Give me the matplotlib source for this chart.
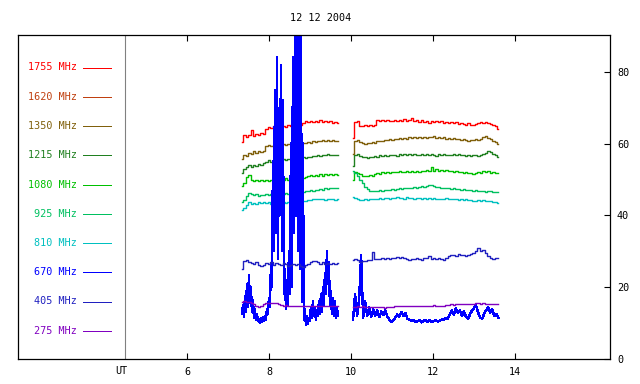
import numpy as np
import matplotlib
matplotlib.use("Agg")
import matplotlib.pyplot as plt
from matplotlib.lines import Line2D

TITLE = "12 12 2004"
FREQS = ["1755", "1620", "1350", "1215", "1080", "925", "810", "670", "405", "275"]
COLORS = ["#ff0000", "#c04010", "#80600c", "#208020", "#00c000",
          "#00c060", "#00c0c0", "#0000ff", "#2020c0", "#8000c0"]
X_TICKS = [6, 8, 10, 12, 14]
Y_TICKS = [0, 20, 40, 60, 80]
UT_POS = 4.49
SEG1 = (7.34, 9.68)
SEG2 = (10.05, 13.59)

# ---- segment 1 (7.34 - 9.68 UT) ----
S1755_A = [60.5, 62.5, 61.8, 62.3, 63.8, 62.0, 62.8, 62.4, 63.0, 62.6,
           64.2, 64.6, 64.3, 64.8, 64.5, 64.9, 64.6, 65.0, 64.7, 65.1,
           64.9, 65.3, 65.0, 65.4, 65.1, 65.6, 66.2, 66.0, 66.4, 65.9,
           66.3, 66.0, 66.5, 66.1, 66.4, 65.9, 66.2, 65.8, 66.1, 65.6]
S1350_A = [55.8, 56.8, 56.5, 57.4, 57.2, 57.8, 57.5, 57.9, 57.6, 58.0,
           59.3, 59.5, 59.2, 59.6, 59.4, 59.7, 59.5, 59.8, 59.6, 59.9,
           59.8, 60.1, 59.9, 60.2, 60.0, 60.3, 60.1, 60.5, 60.3, 60.6,
           60.5, 60.8, 60.6, 60.9, 60.7, 61.0, 60.8, 60.9, 60.7, 60.8]
S1215_A = [51.8, 52.8, 53.5, 53.9, 53.6, 54.1, 53.8, 54.3, 54.1, 54.5,
           55.0, 55.3, 55.0, 55.4, 55.2, 55.5, 55.3, 55.6, 55.4, 55.7,
           55.6, 55.9, 55.7, 56.1, 55.9, 56.2, 56.0, 56.4, 56.3, 56.6,
           56.5, 56.8, 56.6, 56.9, 56.7, 57.0, 56.8, 56.9, 56.7, 56.8]
S1080_A = [48.3, 49.0, 50.8, 51.2, 50.0, 49.6, 49.9, 49.5, 49.8, 49.6,
           49.9, 49.7, 50.0, 49.8, 50.1, 49.9, 50.2, 49.9, 50.4, 50.0,
           50.3, 50.1, 50.5, 50.2, 50.6, 50.4, 50.7, 50.9, 51.2, 50.9,
           51.3, 51.0, 51.4, 51.1, 51.5, 51.2, 51.6, 51.3, 51.5, 51.2]
S925_A = [43.6, 44.4, 45.5, 46.3, 46.0, 45.6, 45.9, 45.5, 45.8, 45.6,
          45.9, 45.7, 46.0, 45.8, 46.1, 45.9, 46.2, 46.0, 46.3, 46.1,
          46.4, 46.2, 46.5, 46.3, 46.6, 46.5, 46.8, 46.7, 47.0, 46.9,
          47.2, 47.0, 47.3, 47.2, 47.5, 47.4, 47.6, 47.5, 47.7, 47.6]
S810_A = [41.6, 42.2, 42.9, 43.6, 43.2, 43.5, 43.3, 43.6, 43.4, 43.7,
          43.4, 43.6, 43.3, 43.7, 43.5, 43.6, 43.4, 43.7, 43.5, 43.8,
          43.6, 43.9, 43.7, 44.0, 43.8, 44.1, 44.0, 44.3, 44.4, 44.6,
          44.5, 44.7, 44.5, 44.6, 44.4, 44.7, 44.5, 44.6, 44.4, 44.5]
S405_A = [25.0, 27.2, 27.6, 27.0, 26.8, 26.4, 27.0, 26.2, 25.8, 26.2,
          26.8, 26.5, 26.9, 26.3, 26.8, 26.6, 26.2, 26.7, 26.4, 25.8,
          26.3, 26.6, 26.1, 26.5, 26.0, 25.7, 26.2, 26.6, 26.9, 27.2,
          27.4, 27.0, 26.6, 27.1, 26.5, 26.8, 26.5, 26.7, 26.6, 26.7]
S275_A = [16.0, 16.1, 15.9, 15.8, 15.7, 15.3, 14.7, 14.6, 14.8, 15.2,
          15.5, 15.6, 15.7, 15.6, 15.5, 15.3, 15.1, 14.9, 15.0, 14.8,
          14.9, 14.8, 14.7, 14.8, 14.9, 14.7, 14.8, 14.9, 14.8, 14.7,
          14.8, 14.9, 14.7, 14.8, 14.9, 14.8, 14.7, 14.9, 14.8, 14.8]
S670_A = [12.5, 15.0, 11.8, 17.5, 13.0, 21.0, 14.5, 23.5, 15.5, 20.0,
          13.0, 16.5, 11.5, 14.0, 10.8, 12.5, 10.5, 11.2, 10.0, 11.5,
          10.3, 11.8, 10.6, 12.0, 11.0, 14.0, 12.5, 17.0, 14.5, 26.0,
          20.0, 55.0, 30.0, 75.0, 35.0, 84.0, 28.0, 70.0, 40.0, 82.0,
          30.0, 72.0, 18.0, 25.0, 14.0, 22.0, 15.0, 30.0, 18.0, 60.0,
          20.0, 84.0, 35.0, 95.0, 40.0, 95.0, 30.0, 95.0, 25.0, 95.0,
          16.0, 60.0, 11.0, 14.0, 9.5, 12.0, 9.8, 11.5, 10.5, 14.5,
          11.5, 16.0, 12.0, 14.5, 11.0, 13.5, 12.0, 16.0, 12.5, 18.0,
          13.0, 20.0, 15.0, 24.0, 18.0, 30.0, 21.0, 27.0, 15.0, 19.0,
          12.5, 17.0, 12.0, 16.0, 11.5, 14.5, 12.0]

# ---- segment 2 (10.05 - 13.59 UT) ----
S1755_B = [61.5, 66.0, 66.4, 65.0, 64.8, 65.1, 64.9, 65.2, 65.0, 65.3,
           66.5, 66.2, 66.6, 66.3, 66.7, 66.4, 66.2, 66.6, 66.3, 66.5,
           66.4, 66.8, 66.3, 66.5, 67.0, 66.2, 66.6, 66.1, 66.5, 65.9,
           66.3, 65.8, 66.2, 66.0, 66.4, 65.9, 66.3, 65.7, 66.1, 65.8,
           66.0, 65.6, 65.9, 65.4, 65.8, 65.5, 65.2, 65.6, 65.3, 65.1,
           65.5, 65.8, 66.1, 65.7, 66.0, 65.6, 65.4, 65.2, 64.9, 64.0]
S1350_B = [57.0, 60.8, 60.9, 60.5, 60.2, 60.0, 60.3, 60.1, 60.4, 60.3,
           60.6, 60.8, 60.7, 61.0, 60.9, 61.2, 61.1, 61.4, 61.2, 61.5,
           61.3, 61.6, 61.4, 61.7, 61.5, 61.9, 61.6, 61.8, 61.5, 61.7,
           61.6, 61.9, 61.7, 62.0, 61.6, 61.8, 61.5, 61.7, 61.4, 61.6,
           61.3, 61.5, 61.2, 61.4, 61.1, 61.3, 61.0, 60.8, 61.1, 60.9,
           61.2, 61.0, 61.4, 61.8, 62.0, 61.6, 61.2, 60.8, 60.4, 60.0]
S1215_B = [53.8, 56.8, 57.0, 56.6, 56.2, 56.3, 56.1, 56.4, 56.2, 56.5,
           56.4, 56.7, 56.5, 56.8, 56.6, 56.9, 56.7, 56.9, 56.6, 57.0,
           56.8, 57.0, 56.7, 57.1, 56.8, 57.0, 56.7, 56.9, 57.1, 56.8,
           57.0, 56.7, 57.2, 56.9, 56.6, 57.0, 56.8, 57.1, 56.8, 56.9,
           56.7, 57.0, 56.8, 57.1, 56.7, 56.9, 56.6, 56.8, 56.5, 56.7,
           56.9, 56.6, 56.8, 57.0, 57.4, 58.0, 57.6, 57.1, 56.8, 56.4]
S1080_B = [50.0, 52.2, 51.8, 51.4, 51.0, 51.1, 50.9, 51.2, 51.0, 51.4,
           51.8, 51.6, 52.0, 51.8, 52.1, 51.9, 52.2, 52.0, 52.1, 52.3,
           52.0, 52.2, 52.4, 52.1, 52.3, 52.0, 52.4, 52.2, 52.5, 52.3,
           52.6, 52.4, 53.4, 52.5, 52.8, 52.4, 52.6, 52.3, 52.7, 52.4,
           52.5, 52.2, 52.4, 52.0, 52.2, 51.9, 52.1, 51.7, 51.9, 51.6,
           51.8, 52.0, 51.9, 52.3, 52.0, 52.4, 51.8, 52.1, 51.9, 51.7]
S925_B = [52.3, 51.9, 51.0, 50.0, 48.9, 48.0, 47.3, 46.9, 46.7, 46.9,
          46.8, 47.0, 46.9, 47.1, 47.0, 47.2, 47.3, 47.1, 47.4, 47.5,
          47.4, 47.6, 47.5, 47.7, 47.6, 47.8, 47.7, 47.9, 48.1, 48.0,
          48.3, 48.6, 48.4, 48.2, 47.9, 47.8, 47.6, 47.7, 47.5, 47.6,
          47.4, 47.5, 47.3, 47.4, 47.2, 47.3, 47.1, 47.2, 47.0, 46.9,
          47.1, 46.9, 46.7, 46.8, 46.6, 46.9, 46.7, 46.5, 46.6, 46.4]
S810_B = [45.1, 44.9, 44.6, 44.4, 44.3, 44.5, 44.4, 44.6, 44.5, 44.7,
          44.6, 44.8, 44.7, 44.9, 44.8, 44.7, 44.9, 44.8, 45.0, 44.8,
          44.9, 44.7, 45.0, 44.8, 44.9, 44.7, 44.9, 44.8, 44.6, 44.8,
          44.7, 44.9, 44.6, 44.8, 44.7, 44.5, 44.7, 44.6, 44.8, 44.6,
          44.7, 44.5, 44.6, 44.4, 44.6, 44.3, 44.5, 44.2, 44.4, 44.1,
          43.9, 44.2, 44.0, 44.3, 44.1, 43.9, 44.0, 43.8, 43.6, 43.4]
S405_B = [27.6, 27.8, 27.5, 27.1, 27.3, 27.4, 27.6, 27.6, 29.7, 27.9,
          27.8, 27.9, 28.0, 27.8, 28.1, 27.9, 28.2, 28.0, 28.3, 28.2,
          28.3, 28.1, 27.8, 27.7, 27.9, 27.8, 28.0, 27.9, 27.7, 28.1,
          28.0, 28.8, 27.9, 28.1, 27.8, 28.0, 27.9, 27.7, 28.2, 28.6,
          28.9, 29.1, 28.8, 29.2, 28.9, 29.0, 28.8, 29.1, 29.3, 29.5,
          30.0, 31.0, 30.2, 30.5, 29.4, 28.6, 28.2, 27.8, 28.0, 28.1]
S275_B = [14.6, 14.6, 14.7, 14.6, 14.7, 14.6, 14.5, 14.6, 14.5, 14.4,
          14.4, 14.5, 14.4, 14.3, 14.4, 14.5, 14.6, 14.7, 14.8, 14.8,
          14.8, 14.7, 14.8, 14.9, 14.8, 14.7, 14.8, 14.9, 14.8, 14.9,
          14.9, 14.8, 14.9, 15.0, 14.9, 14.8, 14.7, 14.8, 15.0, 15.1,
          15.2, 15.1, 15.2, 15.3, 15.2, 15.3, 15.2, 15.4, 15.3, 15.4,
          15.6, 15.5, 15.4, 15.5, 15.3, 15.4, 15.3, 15.4, 15.3, 15.4]
S670_B = [11.0, 18.0, 12.0, 16.5, 29.0, 11.5, 16.0, 12.0, 14.5, 11.8,
          13.8, 12.0, 13.5, 11.6, 13.2, 12.2, 13.5, 11.8, 11.0, 10.4,
          10.8, 11.6, 12.4, 11.8, 13.0, 12.0, 12.8, 11.2, 11.0, 10.5,
          10.9, 10.3, 10.6, 10.8, 10.2, 10.7, 10.9, 10.4, 10.8, 10.3,
          10.5, 10.9, 10.4, 10.6, 11.0, 10.8, 11.5, 11.2, 12.5, 13.6,
          12.4, 14.2, 12.8, 13.5, 12.0, 13.2, 11.8, 11.2, 12.4, 13.5,
          14.2, 15.0, 13.0, 11.6, 11.2, 12.5, 13.6, 14.5, 12.8, 13.9,
          12.0, 12.6, 11.5]

SERIES = {
    "1755": (S1755_A, S1755_B),
    "1350": (S1350_A, S1350_B),
    "1215": (S1215_A, S1215_B),
    "1080": (S1080_A, S1080_B),
    "925": (S925_A, S925_B),
    "810": (S810_A, S810_B),
    "405": (S405_A, S405_B),
    "275": (S275_A, S275_B),
    "670": (S670_A, S670_B),
}

W, H = 640, 384
FONT = "DejaVu Sans Mono"
FS = 7.3

fig = plt.figure(figsize=(W / 100, H / 100), dpi=100)
fig.patch.set_facecolor("white")

AX_L, AX_R, AX_T, AX_B = 18, 610, 35, 359
ax = fig.add_axes([AX_L / W, 1 - AX_B / H, (AX_R - AX_L) / W, (AX_B - AX_T) / H])

# x scale: 41 px per hour, 8 UT at x=269 px
PX_PER_HR = 41.0
def t_of_px(x):
    return 8 + (x - 269) / PX_PER_HR

ax.set_xlim(t_of_px(AX_L), t_of_px(AX_R))
ax.set_ylim(0, (AX_B - AX_T) / 3.59)

color_of = dict(zip(FREQS, COLORS))
for f in FREQS:
    if f not in SERIES:
        continue
    a, b = SERIES[f]
    ta = np.linspace(SEG1[0], SEG1[1], len(a))
    tb = np.linspace(SEG2[0], SEG2[1], len(b))
    if f == "670":
        kw = dict(lw=1.0, drawstyle="default", antialiased=False)
    else:
        kw = dict(lw=1.0, drawstyle="steps-mid", antialiased=True)
    ax.plot(ta, a, color=color_of[f], **kw)
    ax.plot(tb, b, color=color_of[f], **kw)

ax.axvline(UT_POS, color="#808080", lw=0.8)

for s in ax.spines.values():
    s.set_color("black")
    s.set_linewidth(0.9)

ax.set_xticks(X_TICKS)
ax.set_xticklabels([str(v) for v in X_TICKS], fontsize=FS, family=FONT)
ax.tick_params(axis="x", direction="in", top=True, bottom=True, length=4,
               width=0.8, pad=6)
ax.set_yticks(Y_TICKS)
ax.set_yticklabels([str(v) for v in Y_TICKS], fontsize=FS, family=FONT)
ax.yaxis.tick_right()
ax.tick_params(axis="y", direction="in", left=False, right=True, length=4,
               width=0.8, pad=5)

ax.text(UT_POS - 0.1, -12.5 / 3.59, "UT", ha="center", va="center",
        fontsize=FS, family=FONT)

fig.text(321 / W, 1 - 18 / H, TITLE, ha="center", va="center",
         fontsize=FS, family=FONT)

# legend on the left
for i, (f, c) in enumerate(zip(FREQS, COLORS)):
    ypx = 67.5 + i * 29.25
    fig.text(77 / W, 1 - ypx / H, f"{f} MHz", ha="right", va="center",
             fontsize=FS, family=FONT, color=c)
    fig.add_artist(Line2D([83 / W, 111 / W], [1 - ypx / H, 1 - ypx / H],
                          transform=fig.transFigure, color=c, lw=0.72,
                          antialiased=False))

fig.savefig("out.png", dpi=100)
